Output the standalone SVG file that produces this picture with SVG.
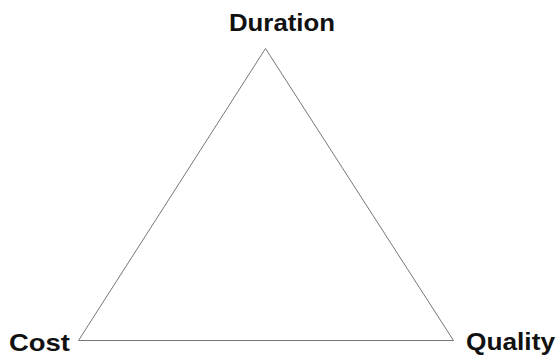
<svg xmlns="http://www.w3.org/2000/svg" width="556" height="355" viewBox="0 0 556 355">
<style>
.lbl{font-family:"Liberation Sans",Arial,sans-serif;font-weight:bold;font-size:24px;fill:#111}
.edge{fill:none;stroke:#777;stroke-width:1}
</style>
<rect width="556" height="355" fill="#fff"/>
<g id="connectors">
<polygon class="edge" points="265.5,48.5 78.5,340.5 453.5,340.5"/>
</g>
<g id="duration"><text class="lbl" x="229" y="31" textLength="106" lengthAdjust="spacingAndGlyphs">Duration</text></g>
<g id="cost"><text class="lbl" x="9" y="351" textLength="61" lengthAdjust="spacingAndGlyphs">Cost</text></g>
<g id="quality"><text class="lbl" x="466" y="350" textLength="89" lengthAdjust="spacingAndGlyphs">Quality</text></g>
</svg>
